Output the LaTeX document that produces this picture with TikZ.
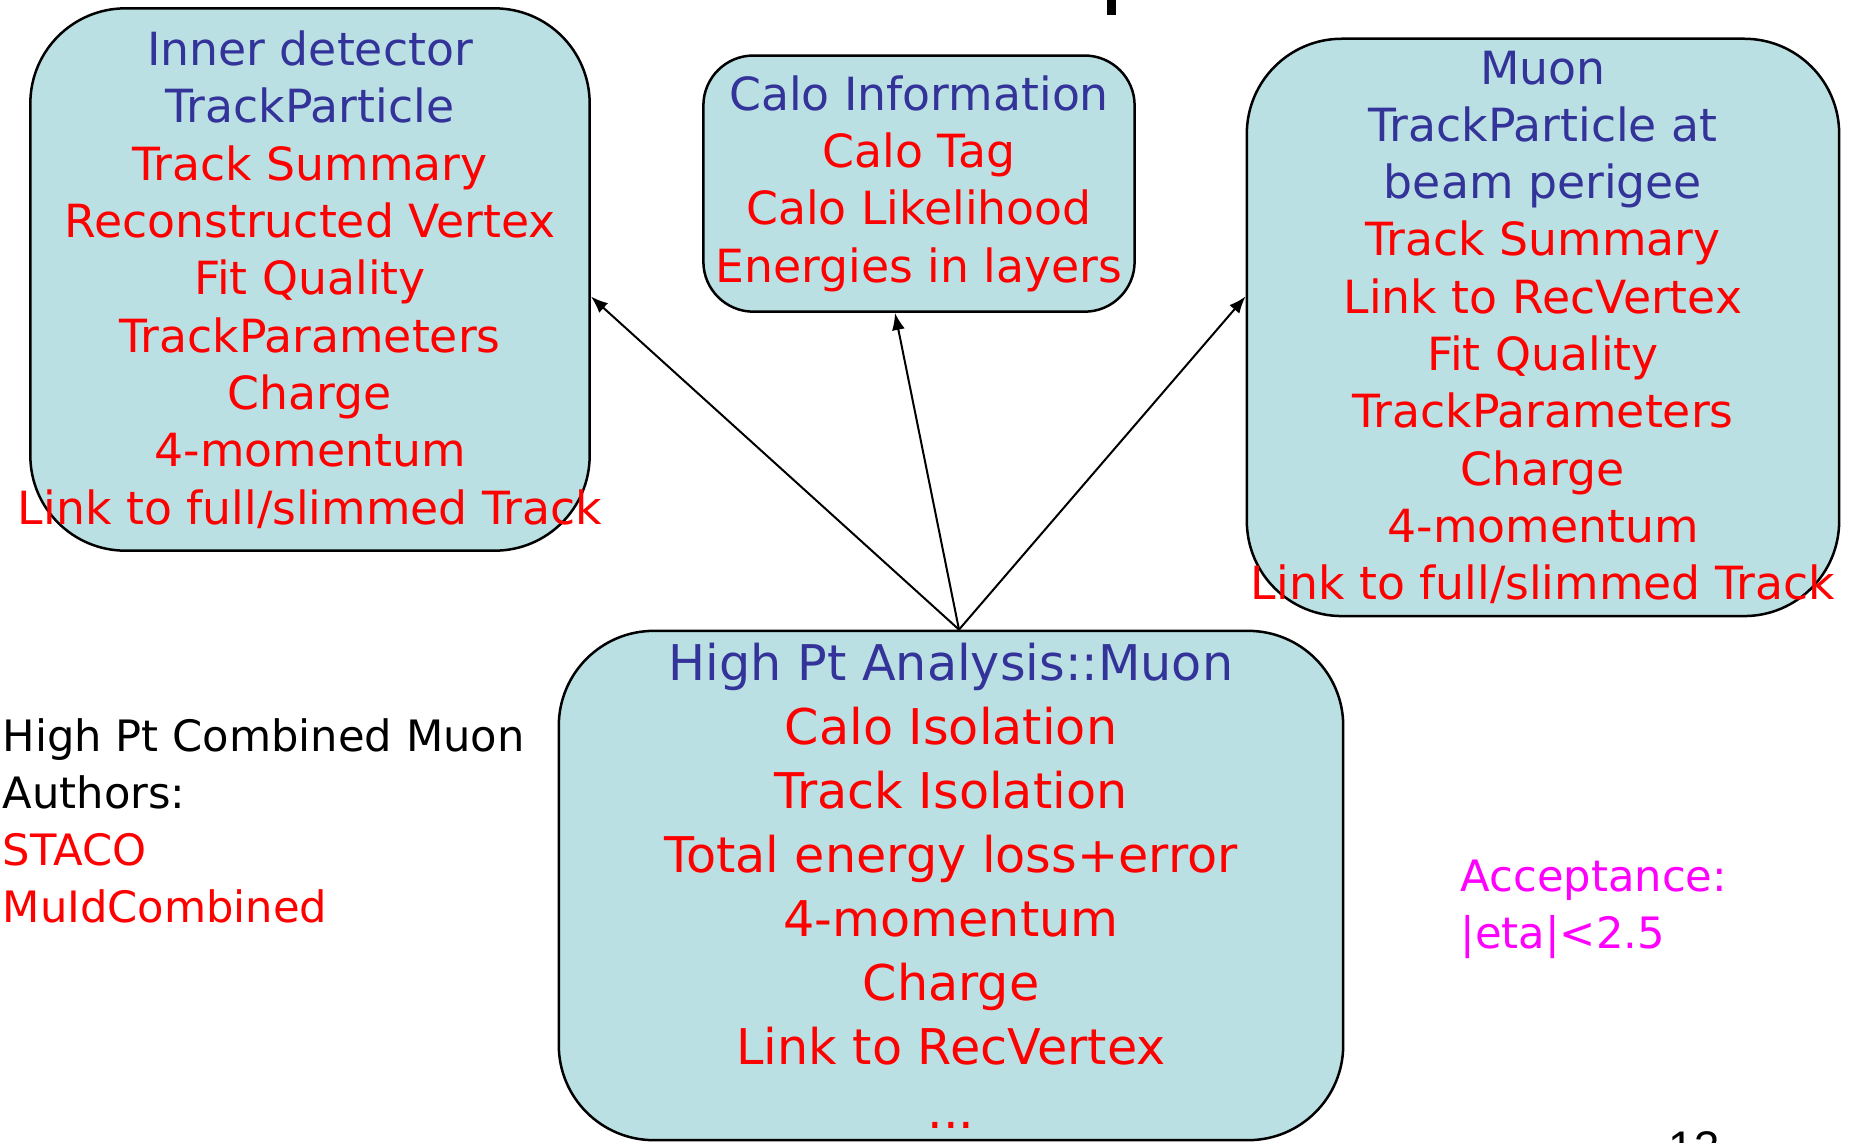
\documentclass[tikz,border=0pt]{standalone}
\usepackage{fontspec}
\setmainfont{DejaVu Sans}
\newfontfamily\pagenofont{Liberation Sans}
\usetikzlibrary{calc,arrows.meta}
\definecolor{boxfill}{HTML}{BAE0E3}
\definecolor{headblue}{HTML}{333399}
\definecolor{itemred}{HTML}{FF0000}
\definecolor{accmag}{HTML}{FF00FF}
\begin{document}
\begin{tikzpicture}[x=0.01cm,y=-0.01cm,
  box/.style={draw,line width=0.025cm,fill=boxfill,rounded corners=0.95cm,inner sep=0pt},
  boxtxt/.style={align=center,text=itemred,inner sep=0pt,font=\fontsize{13pt}{16.3pt}\selectfont},
  sidetxt/.style={align=left,inner sep=0pt,font=\fontsize{12.3pt}{16.2pt}\selectfont},
  link/.style={-{Latex[length=0.17cm,width=0.13cm]},line width=0.02cm}]
\useasboundingbox (0,0) rectangle (1857,1142);
%
\node[box,minimum width=5.59cm,minimum height=5.42cm](id) at (310,279.5){};
\node[boxtxt](idtxt) at (id.center){\textcolor{headblue}{Inner detector}\\\textcolor{headblue}{TrackParticle}\\Track Summary\\Reconstructed Vertex\\Fit Quality\\TrackParameters\\Charge\\4-momentum\\Link to full/slimmed Track};
%
\node[box,rounded corners=0.5cm,minimum width=4.31cm,minimum height=2.56cm](calo) at (919,183.6){};
\node[boxtxt](calotxt) at (calo.center){\textcolor{headblue}{Calo Information}\\Calo Tag\\Calo Likelihood\\Energies in layers};
%
\node[box,minimum width=5.92cm,minimum height=5.77cm](muon) at (1543,327.4){};
\node[boxtxt](muontxt) at (muon.center){\textcolor{headblue}{Muon}\\\textcolor{headblue}{TrackParticle at}\\\textcolor{headblue}{beam perigee}\\Track Summary\\Link to RecVertex\\Fit Quality\\TrackParameters\\Charge\\4-momentum\\Link to full/slimmed Track};
%
\node[box,minimum width=7.84cm,minimum height=5.09cm](hpt) at (951,885.5){};
\node[boxtxt,font=\fontsize{14pt}{18.2pt}\selectfont](hpttxt) at (hpt.center){\textcolor{headblue}{High Pt Analysis::Muon}\\Calo Isolation\\Track Isolation\\Total energy loss+error\\4-momentum\\Charge\\Link to RecVertex\\...};
%
\coordinate (hpA) at ($(hpt.north)+(8,0)$);
\draw[link](hpA)--($(id.east)+(0,17)$);
\draw[link](hpA)--($(calo.south)+(-24,0)$);
\draw[link](hpA)--($(muon.west)+(0,-31)$);
%
\node[sidetxt,anchor=west](authors) at (2,821){High Pt Combined Muon\\Authors:\\\textcolor{itemred}{STACO}\\\textcolor{itemred}{MuIdCombined}};
\node[sidetxt,anchor=west,text=accmag](accept) at (1460,909){Acceptance:\\|eta|<2.5};
%
\fill (1107,-5) rectangle (1116,15);
\node[anchor=north west,inner sep=0pt,font=\pagenofont\fontsize{13pt}{15pt}\selectfont](pageno) at (1668,1131){13};
\end{tikzpicture}
\end{document}
